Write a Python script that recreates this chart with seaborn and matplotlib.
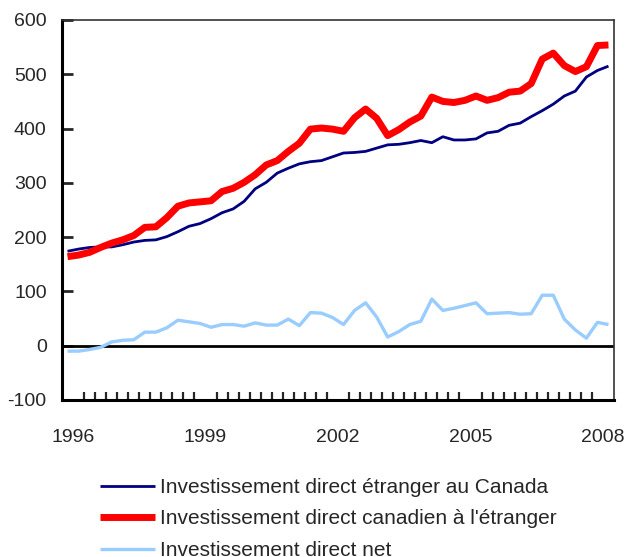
import numpy as np
import pandas as pd
import matplotlib
matplotlib.use("Agg")
import matplotlib.pyplot as plt
import seaborn as sns

# Investissement direct, trimestriel 1996T1 - 2008T2 (milliards de dollars)
years = ["1996", "1999", "2002", "2005", "2008"]

etranger_au_canada = [
    174, 178, 181, 182, 182, 186, 191, 194, 195, 201,
    210, 220, 225, 234, 245, 252, 266, 289, 301, 318,
    327, 335, 339, 341, 348, 355, 356, 358, 364, 370,
    371, 374, 378, 374, 385, 379, 379, 381, 392, 395,
    406, 410, 422, 433, 445, 460, 469, 495, 507, 515,
]

canadien_a_letranger = [
    164, 167, 172, 181, 189, 195, 203, 218, 219, 236,
    257, 263, 265, 267, 284, 290, 301, 315, 333, 341,
    358, 373, 399, 401, 399, 395, 420, 436, 419, 387,
    398, 412, 423, 458, 450, 448, 452, 460, 452, 457,
    467, 469, 483, 528, 539, 516, 505, 514, 553, 554,
]

net = [
    -10, -10, -7, -3, 7, 10, 11, 25, 25, 33,
    47, 44, 41, 34, 39, 39, 36, 42, 38, 38,
    49, 37, 61, 60, 52, 39, 65, 79, 53, 16,
    26, 39, 45, 86, 65, 69, 74, 79, 59, 60,
    61, 58, 59, 93, 93, 49, 29, 14, 43, 39,
]

labels = [
    "Investissement direct étranger au Canada",
    "Investissement direct canadien à l'étranger",
    "Investissement direct net",
]
colors = ["#000080", "#ff0000", "#99ccff"]
widths = [2.0, 5.0, 2.4]

df = pd.DataFrame({
    "t": np.arange(len(net)),
    labels[0]: etranger_au_canada,
    labels[1]: canadien_a_letranger,
    labels[2]: net,
})

sns.set_style("white")
plt.rcParams["font.family"] = ["Liberation Sans", "DejaVu Sans"]
plt.rcParams["axes.unicode_minus"] = False

fig = plt.figure(figsize=(6.27, 5.57), dpi=100)
ax = fig.add_axes([62 / 627, 1 - 400 / 557, 552 / 627, 380 / 557])

for lab, col, lw in zip(labels, colors, widths):
    sns.lineplot(data=df, x="t", y=lab, color=col, linewidth=lw, ax=ax, label=lab,
                 solid_capstyle="butt")

ax.axhline(0, color="black", linewidth=2, zorder=1)

ax.set_xlim(-0.5, len(net) - 0.5)
ax.set_ylim(-100, 600)
ax.set_yticks(range(-100, 601, 100))
ax.set_xticks([0.5, 12.5, 24.5, 36.5, 48.5])
ax.set_xticklabels(years)
ax.set_xticks(np.arange(0.5, len(net) - 0.5, 1), minor=True)
ax.set_xlabel("")
ax.set_ylabel("")

ax.tick_params(axis="y", direction="in", length=8, width=2, pad=11, labelsize=14, left=True)
ax.tick_params(axis="x", which="major", length=0, pad=21, labelsize=14, bottom=True)
ax.tick_params(axis="x", which="minor", direction="in", length=6, width=1.6, bottom=True)

for side in ["left", "bottom"]:
    ax.spines[side].set_color("black")
    ax.spines[side].set_linewidth(2.2)
for side in ["top", "right"]:
    ax.spines[side].set_color("#333333")
    ax.spines[side].set_linewidth(1.2)

ax.get_legend().remove()
handles, labs = ax.get_legend_handles_labels()
fig.legend(handles, labs, loc="upper left", bbox_to_anchor=(100 / 627, 1 - 478 / 557),
           frameon=False, fontsize=15, handlelength=2.65, handletextpad=0.25,
           labelspacing=0.6, borderpad=0, borderaxespad=0)

fig.savefig("out.png", dpi=100)
